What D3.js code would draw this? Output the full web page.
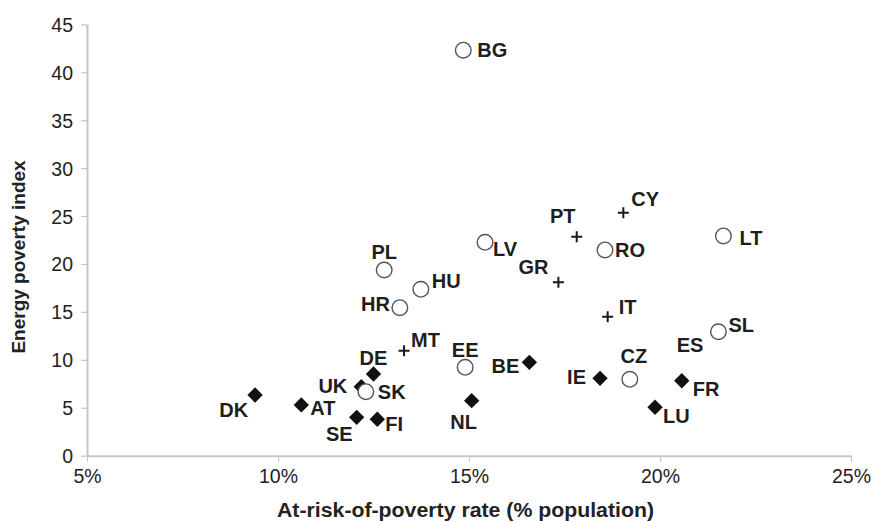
<!DOCTYPE html>
<html><head><meta charset="utf-8">
<script src="https://cdn.jsdelivr.net/npm/d3@7"></script>
<style>
html,body{margin:0;padding:0;background:#fff;}
svg{display:block;}
</style></head>
<body>
<svg id="chart" width="873" height="522"></svg>
<script>
// ---- data ----
const xTicks = [5, 10, 15, 20, 25];
const yTicks = [0, 5, 10, 15, 20, 25, 30, 35, 40, 45];

const circleCountries = ["BG","PL","HU","HR","LV","EE","SK","CZ","SL","LT","RO"];
const circleX = [14.85, 12.78, 13.74, 13.19, 15.42, 14.90, 12.30, 19.21, 21.53, 21.66, 18.56];
const circleY = [42.3, 19.37, 17.36, 15.44, 22.26, 9.22, 6.68, 7.97, 12.93, 22.92, 21.46];

const plusCountries = ["MT","CY","PT","GR","IT","ES"];
const plusX = [13.30, 19.04, 17.82, 17.34, 18.63, 21.53];
const plusY = [10.95, 25.35, 22.85, 18.09, 14.50, 12.93];

const diamondCountries = ["DK","AT","UK","DE","SE","FI","NL","BE","IE","FR","LU"];
const diamondX = [9.40, 10.61, 12.18, 12.50, 12.06, 12.60, 15.07, 16.58, 18.43, 20.57, 19.87];
const diamondY = [6.33, 5.30, 7.20, 8.52, 4.00, 3.80, 5.74, 9.74, 8.07, 7.82, 5.05];

const xTitle = "At-risk-of-poverty rate (% population)";
const yTitle = "Energy poverty index";

// ---- label placement (layout) ----
const labelPlace = {
  BG:["start",14,7], PL:["middle",0,-11], HU:["start",11,-1], HR:["end",-10,3],
  LV:["start",8,14], EE:["middle",0,-10], SK:["start",12,7], CZ:["middle",4,-16],
  SL:["start",10,0], LT:["start",16,9], RO:["start",10,7],
  MT:["start",7,-4], CY:["start",8,-7], PT:["middle",-14,-14], GR:["middle",-25,-8],
  IT:["start",11,-3], ES:["end",-15,20],
  DK:["end",-7,22], AT:["start",9,10], UK:["end",-14,6], DE:["middle",0,-9],
  SE:["end",-4,24], FI:["start",8,12], NL:["middle",-8,28], BE:["end",-10,11],
  IE:["end",-14,6], FR:["start",11,15], LU:["start",8,16]
};

const svg = d3.select("#chart");
const mLeft = 87, mRight = 851, mTop = 24.3, mBottom = 455.7;
const x = d3.scaleLinear().domain([5, 25]).range([mLeft, mRight]);
const y = d3.scaleLinear().domain([0, 45]).range([mBottom, mTop]);

const axisColor = "#c6c6c6";
const font = "'Liberation Sans', Arial, Helvetica, sans-serif";

// y axis
const gy = svg.append("g").attr("transform", `translate(${mLeft},0)`)
  .call(d3.axisLeft(y).tickValues(yTicks).tickSize(6).tickSizeOuter(0).tickPadding(8));
// x axis
const gx = svg.append("g").attr("transform", `translate(0,${mBottom})`)
  .call(d3.axisBottom(x).tickValues(xTicks).tickSize(6).tickSizeOuter(0).tickPadding(7).tickFormat(d => d + "%"));

[gx, gy].forEach(g => {
  g.select(".domain").attr("stroke", axisColor).attr("stroke-width", 2);
  g.selectAll(".tick line").attr("stroke", axisColor).attr("stroke-width", 1.2);
  g.selectAll(".tick text").attr("fill", "#222").style("font-family", font).style("font-size", "19.5px");
});
gy.selectAll(".tick text").attr("dy", "0.36em");

// titles
svg.append("text").attr("x", 465.5).attr("y", 516.5)
  .attr("text-anchor", "middle").style("font-family", font).style("font-weight", "bold")
  .style("font-size", "19.5px").attr("textLength", 377).attr("lengthAdjust", "spacingAndGlyphs")
  .attr("fill", "#222").text(xTitle);
svg.append("text").attr("transform", "translate(25,257) rotate(-90)")
  .attr("text-anchor", "middle").style("font-family", font).style("font-weight", "bold")
  .style("font-size", "19px").attr("fill", "#222").text(yTitle);

const toPts = (names, xs, ys) => names.map((n, i) => ({n, x: xs[i], y: ys[i]}));
const diamonds = toPts(diamondCountries, diamondX, diamondY);
const pluses = toPts(plusCountries, plusX, plusY);
const circles = toPts(circleCountries, circleX, circleY);

// markers
const gm = svg.append("g");
gm.selectAll("path.diamond").data(diamonds).join("path")
  .attr("class", "diamond")
  .attr("d", d3.symbol().type(d3.symbolSquare).size(118))
  .attr("transform", d => `translate(${x(d.x)},${y(d.y)}) rotate(45)`)
  .attr("fill", "#111");
gm.selectAll("path.plus").data(pluses).join("path")
  .attr("class", "plus")
  .attr("d", "M-5.5,0H5.5M0,-5.5V5.5")
  .attr("transform", d => `translate(${x(d.x)},${y(d.y)})`)
  .attr("stroke", "#1a1a1a").attr("stroke-width", 2).attr("fill", "none");
gm.selectAll("circle").data(circles).join("circle")
  .attr("cx", d => x(d.x)).attr("cy", d => y(d.y)).attr("r", 7.8)
  .attr("fill", "#fff").attr("stroke", "#555").attr("stroke-width", 1.4);

// labels
const all = diamonds.concat(pluses, circles);
svg.append("g").selectAll("text").data(all).join("text")
  .attr("x", d => x(d.x) + labelPlace[d.n][1])
  .attr("y", d => y(d.y) + labelPlace[d.n][2])
  .attr("text-anchor", d => labelPlace[d.n][0])
  .style("font-family", font).style("font-weight", "bold").style("font-size", "20px")
  .attr("fill", "#1e1e1e").text(d => d.n);
</script>
</body></html>
